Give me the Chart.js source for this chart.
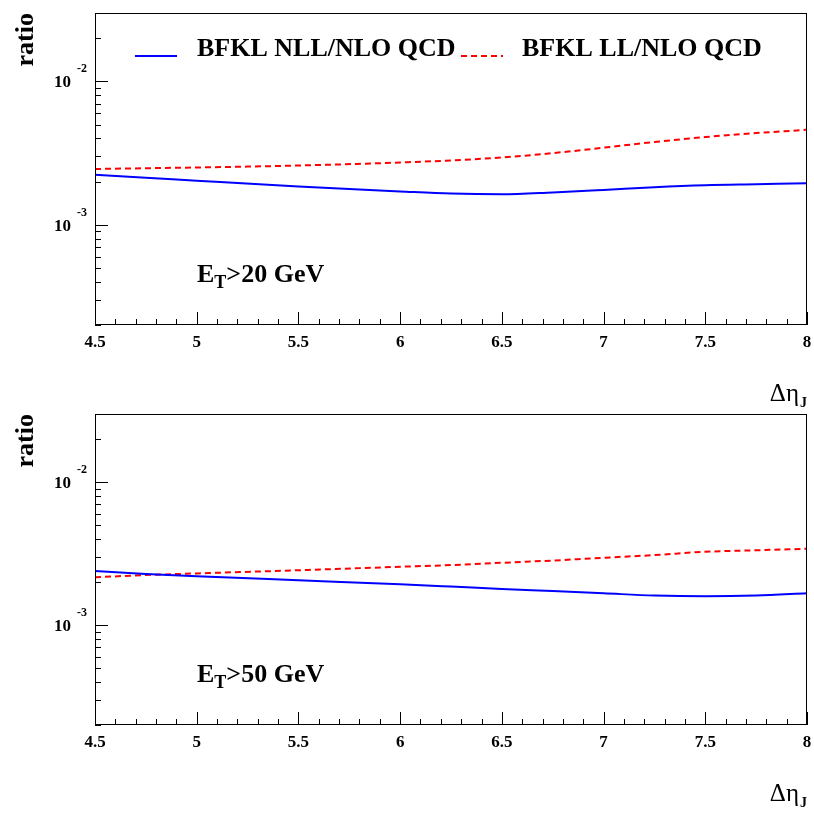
<!DOCTYPE html>
<html>
<head>
<meta charset="utf-8">
<script src="https://cdn.jsdelivr.net/npm/chart.js@4.4.1/dist/chart.umd.min.js"></script>
<style>
  html, body { margin: 0; padding: 0; background: #ffffff; }
  #wrap { position: relative; width: 814px; height: 814px; overflow: hidden; }
  canvas { position: absolute; left: 0; }
</style>
</head>
<body>
<div id="wrap">
  <canvas id="c1" width="814" height="407" style="top:0px"></canvas>
  <canvas id="c2" width="814" height="407" style="top:407px"></canvas>
</div>
<script>
// ---- data ----
const xTop   = [4.5, 4.75, 5, 5.5, 6, 6.25, 6.5, 6.75, 7, 7.25, 7.5, 7.75, 8];
const nllTop = [2.23e-3, 2.13e-3, 2.03e-3, 1.85e-3, 1.71e-3, 1.65e-3, 1.63e-3, 1.68e-3, 1.75e-3, 1.83e-3, 1.89e-3, 1.92e-3, 1.95e-3];
const llTop  = [2.45e-3, 2.48e-3, 2.51e-3, 2.59e-3, 2.72e-3, 2.81e-3, 2.95e-3, 3.16e-3, 3.45e-3, 3.78e-3, 4.09e-3, 4.36e-3, 4.60e-3];

const xBot   = [4.5, 4.75, 5, 5.5, 6, 6.25, 6.5, 6.75, 7, 7.25, 7.5, 7.75, 8];
const nllBot = [2.39e-3, 2.28e-3, 2.20e-3, 2.06e-3, 1.93e-3, 1.86e-3, 1.79e-3, 1.73e-3, 1.67e-3, 1.61e-3, 1.59e-3, 1.61e-3, 1.67e-3];
const llBot  = [2.16e-3, 2.24e-3, 2.30e-3, 2.42e-3, 2.56e-3, 2.63e-3, 2.73e-3, 2.83e-3, 2.96e-3, 3.09e-3, 3.26e-3, 3.34e-3, 3.42e-3];

const xTickLabels = [4.5, 5, 5.5, 6, 6.5, 7, 7.5, 8];
const yDecades = [1e-3, 1e-2];
const seriesNames = ['BFKL NLL/NLO QCD', 'BFKL LL/NLO QCD'];
const cutLabels = ['20', '50'];
const xRange = [4.5, 8];
const yRange = [2e-4, 3e-2];

const BLUE = '#0000ff';
const RED = '#ff0000';
const SERIF = '"Liberation Serif", "DejaVu Serif", serif';
const DASH = [6, 4];

function pts(xs, ys) { return xs.map((x, i) => ({ x: x, y: ys[i] })); }

const decor = {
  id: 'decor',
  afterDraw(chart, args, opts) {
    const ctx = chart.ctx;
    const a = chart.chartArea;
    const xs = chart.scales.x, ys = chart.scales.y;
    ctx.save();
    // frame
    ctx.strokeStyle = '#000';
    ctx.lineWidth = 1;
    ctx.strokeRect(a.left + 0.5, a.top + 0.5, a.right - a.left - 1, a.bottom - a.top - 1);
    // x ticks (inside)
    ctx.beginPath();
    for (let i = 0; i <= 35; i++) {
      const v = xRange[0] + i * 0.1;
      const px = Math.round(xs.getPixelForValue(v)) + 0.5;
      const len = (i % 5 === 0) ? 13 : 6;
      ctx.moveTo(px, a.bottom);
      ctx.lineTo(px, a.bottom - len);
    }
    // y ticks (inside)
    for (const d of [1e-4, 1e-3, 1e-2]) {
      for (let k = 1; k <= 9; k++) {
        const v = k * d;
        if (v < yRange[0] * 0.999 || v > yRange[1] * 1.001) continue;
        const py = Math.round(ys.getPixelForValue(v)) + 0.5;
        const len = (k === 1) ? 13 : 6;
        ctx.moveTo(a.left, py);
        ctx.lineTo(a.left + len, py);
      }
    }
    ctx.stroke();

    ctx.fillStyle = '#000';
    // x tick labels
    ctx.font = 'bold 17px ' + SERIF;
    ctx.textAlign = 'center';
    ctx.textBaseline = 'alphabetic';
    for (const v of xTickLabels) {
      ctx.fillText(String(v), xs.getPixelForValue(v), a.bottom + 22);
    }
    // y decade labels
    for (const d of yDecades) {
      const py = ys.getPixelForValue(d);
      const e = Math.round(Math.log10(d));
      ctx.font = 'bold 17px ' + SERIF;
      ctx.textAlign = 'right';
      ctx.fillText('10', a.left - 24, py + 6);
      ctx.font = 'bold 12px ' + SERIF;
      ctx.textAlign = 'left';
      ctx.fillText(String(e), a.left - 18, py - 9);
    }
    // y title
    ctx.save();
    ctx.translate(33, a.top);
    ctx.rotate(-Math.PI / 2);
    ctx.font = 'bold 26px ' + SERIF;
    ctx.textAlign = 'right';
    ctx.fillText('ratio', 0, 0);
    ctx.restore();
    // x title
    ctx.textAlign = 'left';
    ctx.font = 'bold 14px ' + SERIF;
    const jw = ctx.measureText('J').width;
    ctx.font = '25px ' + SERIF;
    const dw = ctx.measureText('\u0394\u03B7').width;
    const xr = a.right;
    ctx.fillText('\u0394\u03B7', xr - jw - dw - 1, a.bottom + 76);
    ctx.font = 'bold 14px ' + SERIF;
    ctx.fillText('J', xr - jw, a.bottom + 82);
    // E_T label
    let tx = a.left + 102;
    const ty = a.bottom - 43;
    ctx.font = 'bold 26px ' + SERIF;
    ctx.fillText('E', tx, ty);
    tx += ctx.measureText('E').width;
    ctx.font = 'bold 18px ' + SERIF;
    ctx.fillText('T', tx, ty + 6);
    tx += ctx.measureText('T').width;
    ctx.font = 'bold 26px ' + SERIF;
    ctx.fillText('>' + opts.cut + ' GeV', tx, ty);
    // legend
    if (opts.legend) {
      const ly = a.top + 43;
      ctx.lineWidth = 2;
      ctx.strokeStyle = BLUE;
      ctx.beginPath(); ctx.moveTo(135, ly); ctx.lineTo(177, ly); ctx.stroke();
      ctx.strokeStyle = RED;
      ctx.setLineDash(DASH);
      ctx.beginPath(); ctx.moveTo(461, ly); ctx.lineTo(503, ly); ctx.stroke();
      ctx.setLineDash([]);
      ctx.font = 'bold 26px ' + SERIF;
      ctx.fillText(seriesNames[0], 197, ly);
      ctx.fillText(seriesNames[1], 522, ly);
    }
    ctx.restore();
  }
};

function makeChart(id, xs, nll, ll, cut, legend, pad) {
  return new Chart(document.getElementById(id), {
    type: 'line',
    data: {
      datasets: [
        { label: seriesNames[0], data: pts(xs, nll), borderColor: BLUE, borderWidth: 2,
          pointRadius: 0, cubicInterpolationMode: 'monotone', fill: false },
        { label: seriesNames[1], data: pts(xs, ll), borderColor: RED, borderWidth: 2,
          borderDash: DASH, pointRadius: 0, cubicInterpolationMode: 'monotone', fill: false }
      ]
    },
    options: {
      responsive: false,
      animation: false,
      devicePixelRatio: 1,
      layout: { padding: pad },
      plugins: { legend: { display: false }, title: { display: false }, tooltip: { enabled: false },
                 decor: { cut: cut, legend: legend } },
      scales: {
        x: { type: 'linear', min: xRange[0], max: xRange[1],
             ticks: { display: false }, grid: { display: false, drawTicks: false },
             border: { display: false }, afterFit: s => { s.height = 0; } },
        y: { type: 'logarithmic', min: yRange[0], max: yRange[1],
             ticks: { display: false }, grid: { display: false, drawTicks: false },
             border: { display: false }, afterFit: s => { s.width = 0; } }
      }
    },
    plugins: [decor]
  });
}

makeChart('c1', xTop, nllTop, llTop, cutLabels[0], true, { left: 95, top: 13, right: 7, bottom: 82 });
makeChart('c2', xBot, nllBot, llBot, cutLabels[1], false, { left: 95, top: 7, right: 7, bottom: 89 });
</script>
</body>
</html>
